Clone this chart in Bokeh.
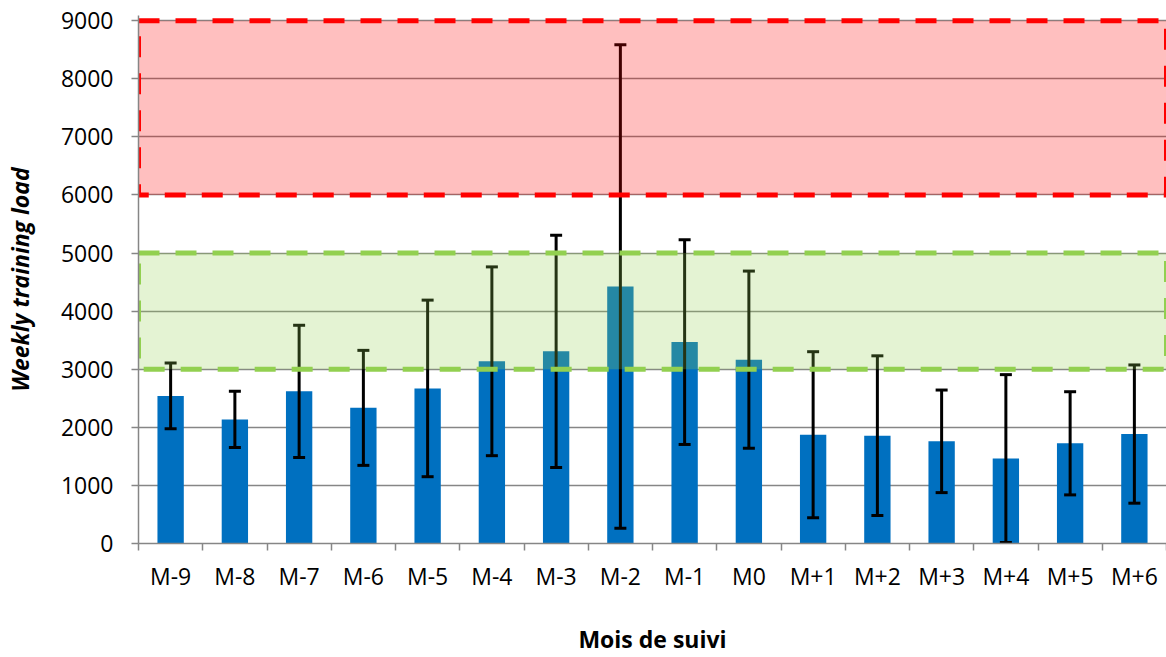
import numpy as np
from bokeh.plotting import figure
from bokeh.models import Range1d, FixedTicker, ColumnDataSource
from bokeh.embed import file_html
from bokeh.resources import INLINE

# ---- data ----
months = ["M-9", "M-8", "M-7", "M-6", "M-5", "M-4", "M-3", "M-2",
          "M-1", "M0", "M+1", "M+2", "M+3", "M+4", "M+5", "M+6"]
mean_load = [2540, 2135, 2619, 2335, 2670, 3137, 3308, 4424,
             3467, 3165, 1873, 1856, 1759, 1463, 1725, 1884]
sd_load = [566, 484, 1138, 990, 1520, 1625, 2000, 4162,
           1762, 1525, 1429, 1375, 883, 1444, 888, 1190]
y_ticks = [0, 1000, 2000, 3000, 4000, 5000, 6000, 7000, 8000, 9000]
green_zone = [3000, 5000]
red_zone = [6000, 9000]

n = len(months)
xc = np.arange(n) + 0.5
mean = np.array(mean_load, dtype=float)
sd = np.array(sd_load, dtype=float)

src = ColumnDataSource(dict(x=xc, top=mean, lo=mean - sd, hi=mean + sd, label=months))

p = figure(width=1166, height=657, output_backend="svg", toolbar_location=None,
           x_range=Range1d(0, n), y_range=Range1d(0, 9090),
           min_border_left=138, min_border_right=0, min_border_top=15, min_border_bottom=110)
p.outline_line_color = None
p.background_fill_color = "white"

TXT = "Open Sans"
GRID = "#868686"

# bars
p.vbar(x="x", top="top", width=0.41, bottom=0, source=src, fill_color="#0070C0", line_color=None)

# error bars
p.segment(x0="x", y0="lo", x1="x", y1="hi", source=src, line_color="black", line_width=3)
p.dash(x="x", y="hi", source=src, size=12, line_color="black", line_width=3)
p.dash(x="x", y="lo", source=src, size=12, line_color="black", line_width=3)

# zones drawn on top (semi-transparent)
p.quad(left=[0], right=[n], bottom=[green_zone[0]], top=[green_zone[1]],
       fill_color="#92D050", fill_alpha=0.25, line_color="#92D050",
       line_width=5, line_dash="21 16")
p.quad(left=[0], right=[n], bottom=[red_zone[0]], top=[red_zone[1]],
       fill_color="#FF0000", fill_alpha=0.25, line_color="#FF0000",
       line_width=5, line_dash="21 16")

# axes
p.xgrid.visible = False
p.ygrid.ticker = FixedTicker(ticks=y_ticks)
p.ygrid.grid_line_color = GRID
p.ygrid.grid_line_width = 1.5

xa = p.xaxis[0]
xa.ticker = FixedTicker(ticks=list(xc), minor_ticks=list(range(n + 1)))
xa.major_label_overrides = {float(v): m for v, m in zip(xc, months)}
xa.major_tick_out = 0
xa.major_tick_in = 0
xa.minor_tick_out = 7
xa.minor_tick_in = 0
xa.minor_tick_line_color = GRID
xa.minor_tick_line_width = 1.5
xa.axis_line_color = GRID
xa.axis_line_width = 1.5
xa.major_label_text_font = TXT
xa.major_label_text_font_size = "23px"
xa.major_label_text_color = "black"
xa.major_label_standoff = 9
xa.axis_label = "Mois de suivi"
xa.axis_label_text_font = TXT
xa.axis_label_text_font_style = "bold"
xa.axis_label_text_font_size = "23px"
xa.axis_label_text_color = "black"
xa.axis_label_standoff = 28

ya = p.yaxis[0]
ya.ticker = FixedTicker(ticks=y_ticks)
ya.major_tick_out = 7
ya.major_tick_in = 0
ya.minor_tick_out = 0
ya.minor_tick_in = 0
ya.major_tick_line_color = GRID
ya.major_tick_line_width = 1.5
ya.axis_line_color = GRID
ya.axis_line_width = 1.5
ya.major_label_text_font = TXT
ya.major_label_text_font_size = "23px"
ya.major_label_text_color = "black"
ya.major_label_standoff = 18
ya.axis_label = "Weekly training load"
ya.axis_label_text_font = TXT
ya.axis_label_text_font_style = "bold italic"
ya.axis_label_text_font_size = "23px"
ya.axis_label_text_color = "black"
ya.axis_label_standoff = 22

open("out.html", "w").write(file_html(p, INLINE))
